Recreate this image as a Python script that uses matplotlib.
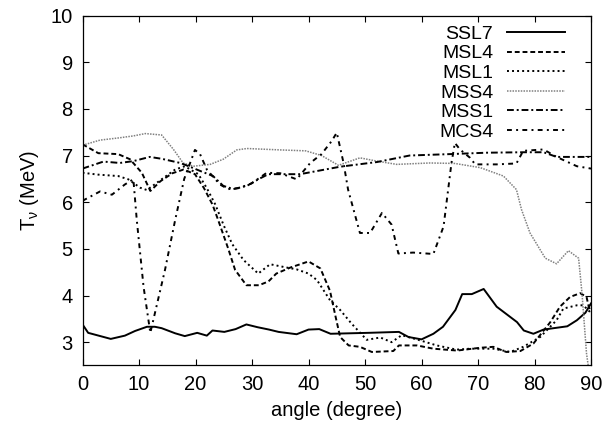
import matplotlib
matplotlib.use("Agg")
import matplotlib.pyplot as plt

plt.rcParams['font.family'] = ['Liberation Sans', 'DejaVu Sans']
plt.rcParams['mathtext.fontset'] = 'custom'
plt.rcParams['mathtext.rm'] = 'Liberation Sans'
plt.rcParams['mathtext.it'] = 'Liberation Sans'

# ---- data (angle in degrees, temperature in MeV) ----
ssl7_x = [0, 1.0, 5.0, 7.5, 9.3, 11.4, 12.8, 14.0, 16.4, 18.1, 20.3, 22.0, 23.0, 25.1,
          27.1, 29.0, 31.0, 33.0, 34.7, 37.9, 40.0, 41.9, 43.9, 50.6, 56.0, 57.7, 60.0,
          62.1, 63.8, 66.0, 67.2, 68.9, 71.0, 73.3, 76.9, 78.1, 79.8, 81.6, 85.8, 87.5,
          89.0, 90.0]
ssl7_y = [3.38, 3.20, 3.07, 3.14, 3.24, 3.33, 3.33, 3.30, 3.19, 3.13, 3.20, 3.14, 3.25, 3.22,
          3.28, 3.38, 3.32, 3.27, 3.22, 3.17, 3.27, 3.28, 3.18, 3.20, 3.22, 3.11, 3.06,
          3.18, 3.33, 3.69, 4.03, 4.03, 4.14, 3.76, 3.43, 3.25, 3.18, 3.27, 3.34, 3.47,
          3.63, 3.83]

msl4_x = [0, 2.8, 6.3, 8.4, 10.5, 12.0, 13.8, 15.9, 17.9, 19.9, 21.5, 23.0, 24.0, 25.8,
          27.0, 29.0, 31.2, 32.9, 34.3, 36.8, 40.0, 42.1, 43.8, 44.8, 45.6, 47.1, 49.1,
          51.2, 55.0, 56.0, 59.2, 62.1, 66.3, 70.4, 72.7, 75.0, 77.5, 79.8, 82.8, 84.5,
          86.3, 88.1, 89.2, 89.6, 90.0]
msl4_y = [7.24, 7.05, 7.03, 6.92, 6.63, 6.24, 6.45, 6.62, 6.70, 6.60, 6.30, 5.95, 5.62, 5.00,
          4.55, 4.22, 4.22, 4.30, 4.47, 4.60, 4.73, 4.58, 4.10, 3.54, 3.11, 2.93, 2.90,
          2.79, 2.81, 2.93, 2.93, 2.86, 2.82, 2.88, 2.90, 2.79, 2.81, 2.97, 3.43, 3.76,
          3.97, 4.05, 3.97, 3.76, 3.65]

msl1_x = [0, 2.8, 6.3, 8.1, 10.2, 11.4, 14.0, 16.4, 18.1, 20.5, 22.0, 23.5, 25.0, 26.5,
          28.5, 31.1, 33.2, 36.1, 37.9, 40.0, 41.5, 43.8, 45.6, 47.6, 50.3, 52.7, 54.7,
          56.5, 59.7, 62.7, 66.2, 68.6, 72.7, 75.7, 78.0, 81.0, 83.9, 85.1, 87.5, 88.6,
          89.5, 90.0]
msl1_y = [6.63, 6.59, 6.56, 6.49, 6.31, 6.26, 6.49, 6.70, 6.77, 6.60, 6.30, 5.95, 5.50, 5.10,
          4.76, 4.47, 4.67, 4.60, 4.56, 4.47, 4.33, 3.90, 3.69, 3.40, 3.05, 3.10, 3.00,
          3.15, 3.04, 2.93, 2.84, 2.86, 2.86, 2.79, 2.90, 3.11, 3.47, 3.72, 3.79, 3.79,
          3.69, 3.62]

mss4_x = [0, 3.1, 6.6, 9.0, 11.1, 14.0, 16.1, 17.8, 19.6, 22.6, 24.9, 27.3, 29.1, 35.0,
          39.5, 42.3, 45.3, 49.1, 52.1, 55.6, 61.5, 65.9, 70.4, 74.5, 76.8, 77.7, 79.2,
          81.9, 83.9, 86.0, 87.8, 88.4, 89.2, 89.5]
mss4_y = [7.22, 7.33, 7.38, 7.42, 7.47, 7.44, 7.13, 6.84, 6.77, 6.81, 6.92, 7.12, 7.15, 7.12,
          7.10, 7.00, 6.79, 6.95, 6.88, 6.81, 6.84, 6.83, 6.74, 6.56, 6.27, 5.84, 5.34,
          4.80, 4.68, 4.96, 4.80, 4.05, 2.76, 2.50]

mss1_x = [0, 3.7, 6.6, 9.0, 11.9, 14.0, 17.3, 18.8, 20.8, 23.1, 24.9, 26.7, 29.1, 31.1,
          32.9, 38.5, 45.6, 52.1, 57.9, 65.0, 71.5, 78.0, 81.6, 83.9, 89.2, 90.0]
mss1_y = [6.72, 6.87, 6.84, 6.88, 6.97, 6.93, 6.84, 6.77, 6.67, 6.56, 6.35, 6.28, 6.35, 6.49,
          6.60, 6.60, 6.76, 6.86, 7.00, 7.03, 7.06, 7.07, 7.07, 6.97, 6.97, 6.97]

mcs4_x = [0, 3.1, 5.2, 7.5, 9.0, 9.6, 10.8, 12.0, 14.6, 16.4, 18.0, 19.9, 20.8, 22.0,
          24.3, 25.8, 27.6, 29.9, 32.6, 35.0, 37.9, 40.3, 42.3, 44.1, 45.0, 46.2, 47.0,
          49.1, 50.9, 53.0, 54.7, 55.9, 58.5, 62.1, 63.9, 65.3, 65.9, 66.8, 68.6, 69.5,
          73.3, 76.8, 78.0, 81.6, 83.9, 87.5, 90.0]
mcs4_y = [6.03, 6.23, 6.16, 6.38, 6.49, 5.62, 4.19, 3.20, 4.55, 5.62, 6.50, 7.12, 7.03, 6.70,
          6.38, 6.28, 6.30, 6.40, 6.63, 6.62, 6.49, 6.84, 7.03, 7.31, 7.49, 6.84, 6.27,
          5.34, 5.34, 5.77, 5.52, 4.90, 4.92, 4.89, 5.48, 6.84, 7.27, 7.13, 6.95, 6.81,
          6.81, 6.83, 7.10, 7.13, 6.97, 6.77, 6.72]

x_ticks = [0, 10, 20, 30, 40, 50, 60, 70, 80, 90]
y_ticks = [3, 4, 5, 6, 7, 8, 9, 10]

fig = plt.figure(figsize=(6.05, 4.36), dpi=100)
ax = fig.add_axes([0.1364, 0.1617, 0.8405, 0.8027])

lw = 1.4
ax.plot(ssl7_x, ssl7_y, color='black', lw=lw, linestyle='-', label='SSL7')
ax.plot(msl4_x, msl4_y, color='black', lw=lw, linestyle=(0, (2.5, 1.5)), label='MSL4')
ax.plot(msl1_x, msl1_y, color='black', lw=lw, linestyle=(0, (1, 1.6)), label='MSL1')
ax.plot(mss4_x, mss4_y, color='#808080', lw=1.1, linestyle=(0, (1, 0.8)), label='MSS4')
ax.plot(mss1_x, mss1_y, color='black', lw=lw, linestyle=(0, (3.5, 1.5, 1, 1.5)), label='MSS1')
ax.plot(mcs4_x, mcs4_y, color='black', lw=lw, linestyle=(0, (2.5, 2.2, 1, 2.2)), label='MCS4')

ax.set_xlim(0, 90)
ax.set_ylim(2.5, 10)
ax.set_xticks(x_ticks)
ax.set_yticks(y_ticks)
ax.tick_params(direction='in', length=4.5, width=0.8, top=True, right=True,
               labelsize=14.5, pad=7)
for s in ax.spines.values():
    s.set_linewidth(0.9)

ax.set_xlabel('angle (degree)', fontsize=14.5, labelpad=5)
ax.set_ylabel(r'T$_\nu$ (MeV)', fontsize=14.5, labelpad=7)

ax.legend(loc='upper right', bbox_to_anchor=(0.949, 0.972), frameon=False,
          markerfirst=False, fontsize=14, handlelength=3.0, handletextpad=0.7,
          labelspacing=0.1, borderpad=0, borderaxespad=0)

fig.savefig('out.png', dpi=100)
